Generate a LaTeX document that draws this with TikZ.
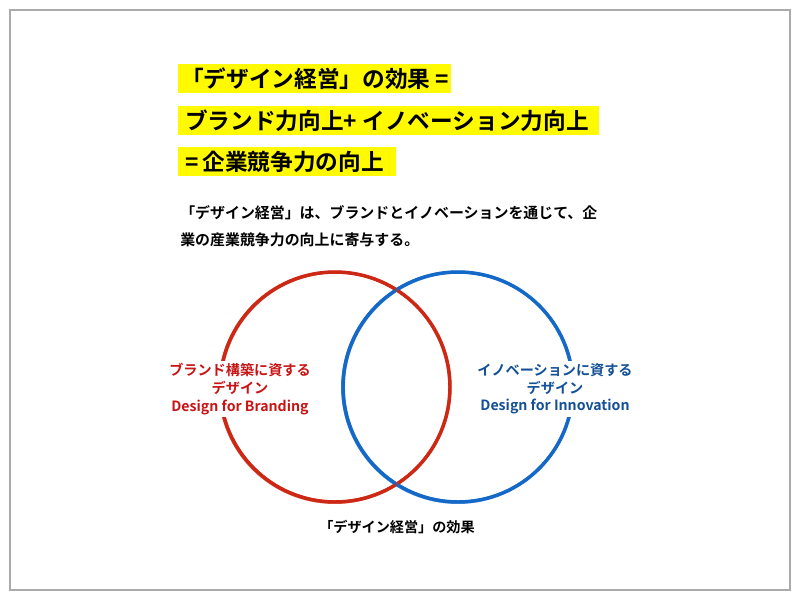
\documentclass[tikz,border=0pt]{standalone}
\usepackage{fontspec}
\setmainfont{Noto Sans CJK JP}[BoldFont={Noto Sans CJK JP Bold}]
\definecolor{hlyellow}{RGB}{255,250,0}
\definecolor{penred}{RGB}{205,40,20}
\definecolor{penblue}{RGB}{20,105,200}
\definecolor{txtred}{RGB}{200,20,20}
\definecolor{txtblue}{RGB}{20,80,150}
\definecolor{framegray}{RGB}{170,170,170}
\tikzset{
  head/.style={anchor=west, inner sep=0pt, font=\bfseries\fontsize{17pt}{18pt}\selectfont},
  para/.style={anchor=west, inner sep=0pt, font=\bfseries\fontsize{11.2pt}{14pt}\selectfont},
  lbl/.style={fill=white, inner sep=2pt, align=center, font=\bfseries\fontsize{10.6pt}{13.2pt}\selectfont},
  pen/.style={line width=2.6pt},
  penthin/.style={line width=0.7pt, opacity=0.6},
}
\begin{document}
\begin{tikzpicture}[x=0.75pt, y=-0.75pt]
\useasboundingbox (0,0) rectangle (800,600);
\fill[white] (0,0) rectangle (800,600);
\draw[framegray, line width=0.8pt] (10,10) rectangle (790,590);
% highlights
\fill[hlyellow] (178,64) rectangle (451,93);
\fill[hlyellow] (178,106) rectangle (599,135);
\fill[hlyellow] (178,147) rectangle (396,176);
\node[head] (h1) at (181,78.5) {「デザイン経営」の効果\hspace{4pt}=};
\node[head] (h2) at (185,120.5) {ブランド力向上+ イノベーション力向上};
\node[head] (h3) at (185,161.5) {=\,企業競争力の向上};
% paragraph
\node[para] (p1) at (180,213) {「デザイン経営」は、ブランドとイノベーションを通じて、企};
\node[para] (p2) at (180,240) {業の産業競争力の向上に寄与する。};
% circles
\draw[penred, pen] (335,387) circle (115);
\draw[penblue, pen] (458,387) circle (115);
\foreach \dx/\dy/\r in {0.5/0.2/114.0, -0.4/0.5/116.0, 0.2/-0.6/114.4, -0.3/-0.3/115.7, 0.6/-0.1/115.4, -0.6/0.1/114.3}{
  \draw[penred, penthin] (335+\dx,387+\dy) circle (\r);
  \draw[penblue, penthin] (458+\dx,387+\dy) circle (\r);
}
% labels
\node[lbl, text=txtred] (lr) at (240,389) {ブランド構築に資する\\デザイン\\Design for Branding};
\node[lbl, text=txtblue] (lb) at (555,389) {イノベーションに資する\\デザイン\\Design for Innovation};
\node[lbl] (cap) at (397,527) {「デザイン経営」の効果};
\end{tikzpicture}
\end{document}
